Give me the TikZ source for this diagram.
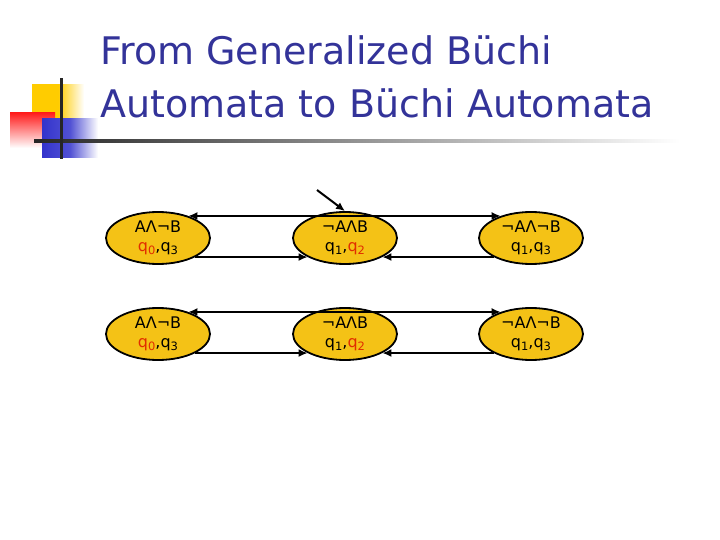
\documentclass[tikz,border=0pt]{standalone}
\usepackage{fontspec}
\setmainfont{DejaVu Sans}
\usetikzlibrary{shapes.geometric,arrows.meta}
\definecolor{titleblue}{RGB}{51,51,153}
\definecolor{stategold}{RGB}{244,194,22}
\definecolor{qred}{RGB}{225,45,0}
\definecolor{logoyellow}{RGB}{255,204,0}
\definecolor{logored}{RGB}{255,30,30}
\definecolor{logoblue}{RGB}{51,51,204}
\newcommand\qsub[1]{\raisebox{-0.35ex}{\fontsize{11.5}{11.5}\selectfont #1}}
\newcommand\qq[1]{q\qsub{#1}}
\tikzset{
  state/.style={ellipse, draw=black, line width=1.8pt, fill=stategold,
    minimum width=104pt, minimum height=52pt, inner sep=0pt, align=center,
    font=\fontsize{16}{19.5}\selectfont},
  trans/.style={line width=2pt, -{Latex[length=9pt,width=8pt]}},
  titletext/.style={anchor=base west, inner sep=0pt, text=titleblue,
    font=\fontsize{38}{44}\selectfont}
}
\begin{document}
\begin{tikzpicture}[x=1pt,y=-1pt]
\useasboundingbox (0,0) rectangle (720,540);
% logo
\shade[left color=logoyellow, right color=white, middle color=logoyellow] (32,85) rectangle (84,125);
\shade[shading angle=225, top color=logored, bottom color=white] (10,113) rectangle (55,148);
\shade[left color=logoblue, right color=white, middle color=logoblue!85] (42,119) rectangle (98,158);
\shade[left color=black!85, right color=white] (34,140) rectangle (680,142.5);
\fill[black!85] (60,78) rectangle (62.5,159);
% title
\node[titletext] (t1) at (100,65) {From Generalized Büchi};
\node[titletext] (t2) at (100,118) {Automata to Büchi Automata};
% row 1
\node[state] (a1) at (158,238) {AΛ¬B\\\textcolor{qred}{\qq{0}},\qq{3}};
\node[state] (b1) at (345,238) {¬AΛB\\\qq{1},\textcolor{qred}{\qq{2}}};
\node[state] (c1) at (531,238) {¬AΛ¬B\\\qq{1},\qq{3}};
% row 2
\node[state] (a2) at (158,334) {AΛ¬B\\\textcolor{qred}{\qq{0}},\qq{3}};
\node[state] (b2) at (345,334) {¬AΛB\\\qq{1},\textcolor{qred}{\qq{2}}};
\node[state] (c2) at (531,334) {¬AΛ¬B\\\qq{1},\qq{3}};
% initial arrow
\coordinate (init) at (317,190);
\draw[trans] (init) -- (b1.north);
% row 1 transitions
\draw[trans] (b1.36) -- (a1.36);
\draw[trans] (b1.144) -- (c1.144);
\draw[trans] (a1.-27) -- (b1.207);
\draw[trans] (c1.207) -- (b1.-27);
% row 2 transitions
\draw[trans] (b2.36) -- (a2.36);
\draw[trans] (b2.144) -- (c2.144);
\draw[trans] (a2.-27) -- (b2.207);
\draw[trans] (c2.207) -- (b2.-27);
\end{tikzpicture}
\end{document}
